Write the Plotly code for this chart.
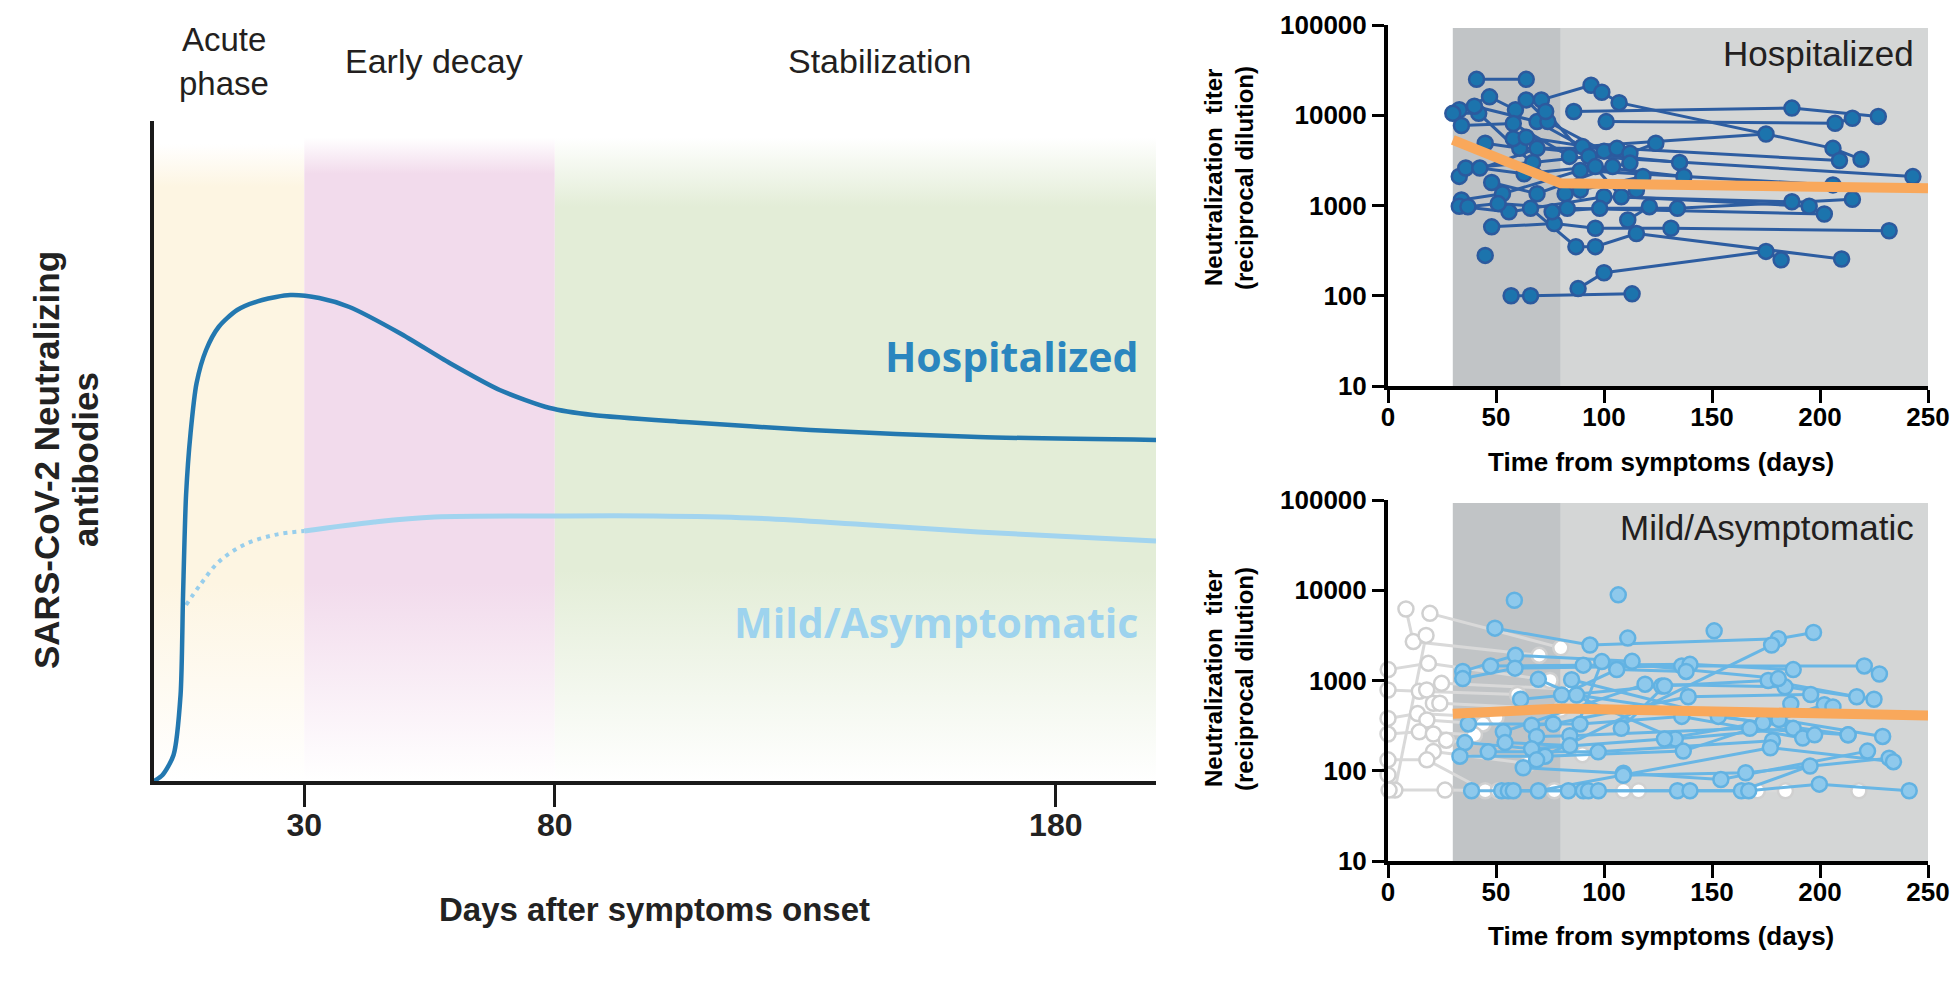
import plotly.graph_objects as go

W, H = 1960, 990

# ---------------- Left schematic panel data ----------------
phase_bounds = [0, 30, 80, 200]
phase_names = ["Acute<br>phase", "Early decay", "Stabilization"]
phase_colors = ["#FDF5E2", "#F2DBEC", "#E3EDD7"]
left_ticks = [30, 80, 180]

hosp_curve_days = [0, 1.7, 3.9, 5.3, 5.8, 6.4, 7.3, 8.5, 10.4, 12.9, 16.6, 21.6, 27.2, 33, 39, 49, 59, 69, 79, 87.6, 106, 131, 164.5, 200]
hosp_curve_vals = [0, 6, 26, 86, 186, 286, 348, 398, 431, 454, 471, 481, 486, 483, 474, 448, 418, 391, 373, 366, 359, 351, 344, 341]

mild_dot_days = [6.4, 9.2, 12.9, 17.9, 24, 30]
mild_dot_vals = [176, 196, 219, 236, 246, 250]
mild_curve_days = [30, 44, 56, 80, 100, 119, 140, 164.5, 200]
mild_curve_vals = [250, 259, 264, 265, 265, 263, 257, 249, 240]

# ---------------- Right panels data ----------------
shade_bounds = [30, 80, 250]
y_tickvals = [10, 100, 1000, 10000, 100000]
x_tickvals = [0, 50, 100, 150, 200, 250]

hosp_days = [
    [41, 64], [71, 94], [99, 107, 206, 219], [86, 187, 227], [101, 207, 215],
    [33, 47, 59], [30, 42, 82], [34, 58, 84], [40, 69, 90, 175], [64, 74, 100],
    [45, 61, 106, 209], [58, 64, 112, 124], [33, 69, 135], [36, 67, 93, 243],
    [42.5, 63, 96, 137], [34, 53, 89, 206], [33, 56, 100, 187], [37, 51, 83, 202],
    [48, 69, 104, 112], [48, 77, 96, 131, 232], [45], [57, 66, 113],
    [88, 100, 175, 182], [66, 87, 96, 115, 210], [76, 98, 134, 215],
    [73, 108, 195], [89, 118], [111, 121], [115],
]
hosp_titer = [
    [25000, 25000], [14800, 21500], [18000, 13800, 4300, 3250], [11000, 12000, 9700], [8500, 8150, 9250],
    [11500, 16000, 11500], [10500, 10500, 1350], [7700, 8100, 3500], [12600, 8500, 4500, 6200], [14800, 8500, 4000],
    [4900, 4300, 4300, 3150], [5500, 5700, 3800, 4900], [2100, 4300, 3000], [2600, 3000, 3500, 2090],
    [2600, 2250, 2700, 2100], [1150, 1350, 2450, 1690], [980, 850, 1250, 1100], [970, 1050, 930, 805],
    [1800, 1350, 2700, 2950], [580, 630, 560, 560, 525], [280], [100, 100, 105],
    [120, 180, 310, 250], [930, 350, 350, 490, 255], [850, 930, 930, 1170],
    [11000, 1250, 980], [1480, 2100], [690, 970], [1480],
]
hosp_median_days = [30, 80, 250]
hosp_median = [5330, 1760, 1550]

early_days = [
    [8.3, 11.7, 70], [19.4, 80], [3.2, 17.6], [0.1, 18.7, 75], [0, 14.5, 60],
    [17.9, 24.8, 85], [21, 24, 80], [0, 13.7, 50], [18, 44], [0, 14.5, 40],
    [21, 27, 90], [21, 65], [0, 18, 45], [0, 0.5, 26.4, 51], [109, 116],
    [171, 184], [218], [77],
]
early_titer = [
    [6200, 2700, 1900], [5550, 2300], [61, 3160], [1320, 1550, 1000], [785, 760, 700],
    [785, 930, 800], [560, 560, 480], [380, 430, 390], [365, 330], [255, 270, 250],
    [255, 218, 150], [163, 120], [132, 132, 60], [90, 61, 61, 60], [60, 60],
    [60, 60], [60], [60],
]

mild_days = [
    [58.5], [106.6], [49.5, 93.5, 180.7, 197], [111], [151],
    [34.6, 59, 113], [34.6, 58.8, 136, 220.5, 227.5], [47.5, 90.4, 139.8, 187.6],
    [69.6, 133, 187.6], [80.4, 105.9, 138], [85, 152.9, 213], [61.4, 126.7, 176, 217],
    [87.3, 173.6, 186.5], [37.2, 88.9, 136, 192, 197.5], [53.4, 119, 183.8, 225],
    [66.5, 76.5, 139, 195.7], [68.8, 84.2, 167.5, 213], [35.6, 66.5, 128, 181, 229],
    [54.2, 84.2, 99, 180.7], [33.3, 72.7, 136.7, 202, 206], [46.4, 97.3, 178],
    [68.8, 177.6], [62.6, 109, 154.1, 222], [108.9, 165.6, 232], [38.7, 52.6, 83.5],
    [55.7, 69.6, 177, 234], [58, 90.4, 163.6, 195.4], [108, 128],
    [92.8, 97.4, 134, 139.8, 167, 199.7, 241.3],
]
mild_titer = [
    [7750], [8900], [3800, 2470, 2900, 3400], [2950], [3550],
    [1260, 1900, 1630], [1050, 1370, 1450, 1450, 1180], [1450, 1480, 1510, 1320],
    [1030, 225, 295], [690, 1320, 1260], [1020, 400, 250], [620, 870, 1000, 660],
    [690, 340, 550], [330, 330, 400, 230, 250], [270, 910, 850, 620],
    [320, 330, 660, 700], [240, 245, 295, 250], [205, 175, 225, 370, 240],
    [205, 190, 1620, 1050], [145, 145, 165, 540, 510], [162, 162, 215],
    [132, 2470], [108, 94, 80, 165], [89, 95, 138], [60, 60, 60],
    [60, 60, 180, 126], [60, 60, 60, 113], [295, 870],
    [60, 60, 60, 60, 60, 71, 60],
]
mild_median_days = [30, 80, 250]
mild_median = [427, 490, 410]


def px_x(p):
    return p / W


def px_y(p):
    return 1 - p / H


def flatten(days, titers):
    xs, ys = [], []
    for d, t in zip(days, titers):
        xs += list(d) + [None]
        ys += list(t) + [None]
    return xs, ys


fig = go.Figure()

# ---- left panel background bands with vertical fades ----
YTOP = 660
band_scales = [
    [[0, "#FFFFFF"], [0.3, None], [0.9, None], [0.965, "#FFFFFF"], [1, "#FFFFFF"]],
    [[0, "#FFFFFF"], [0.3, None], [0.92, None], [0.975, "#FFFFFF"], [1, "#FFFFFF"]],
    [[0, "#FFFFFF"], [0.32, None], [0.87, None], [0.975, "#FFFFFF"], [1, "#FFFFFF"]],
]
for i in range(3):
    x0, x1 = phase_bounds[i], phase_bounds[i + 1]
    cs = [[p, c if c else phase_colors[i]] for p, c in band_scales[i]]
    fig.add_trace(go.Scatter(
        x=[x0, x1, x1, x0, x0], y=[0, 0, YTOP, YTOP, 0],
        fill="toself", mode="none", hoverinfo="skip", showlegend=False,
        fillgradient=dict(type="vertical", colorscale=cs, start=0, stop=YTOP),
        xaxis="x", yaxis="y",
    ))

fig.add_trace(go.Scatter(
    x=mild_dot_days, y=mild_dot_vals, mode="lines", line=dict(color="#98CEEC", width=4, dash="4px,5px", shape="spline"),
    showlegend=False, xaxis="x", yaxis="y", cliponaxis=False, hoverinfo="skip"))
fig.add_trace(go.Scatter(
    x=mild_curve_days, y=mild_curve_vals, mode="lines", line=dict(color="#A2D4EF", width=5, shape="spline"),
    showlegend=False, xaxis="x", yaxis="y", cliponaxis=False, hoverinfo="skip"))
fig.add_trace(go.Scatter(
    x=hosp_curve_days, y=hosp_curve_vals, mode="lines", line=dict(color="#2378B0", width=4.5, shape="spline", smoothing=0.7),
    showlegend=False, xaxis="x", yaxis="y", cliponaxis=False, hoverinfo="skip"))

# ---- right top: hospitalized ----
hx, hy = flatten(hosp_days, hosp_titer)
fig.add_trace(go.Scatter(
    x=hx, y=hy, mode="lines+markers", connectgaps=False,
    line=dict(color="#2D5DA1", width=3),
    marker=dict(size=15, color="#1C74AD", line=dict(color="#2C5A9E", width=2.5)),
    showlegend=False, xaxis="x2", yaxis="y2", cliponaxis=False))
fig.add_trace(go.Scatter(
    x=hosp_median_days, y=hosp_median, mode="lines", line=dict(color="#F9A85B", width=10),
    showlegend=False, xaxis="x2", yaxis="y2"))

# ---- right bottom: mild ----
ex, ey = flatten(early_days, early_titer)
fig.add_trace(go.Scatter(
    x=ex, y=ey, mode="lines+markers", connectgaps=False,
    line=dict(color="#D9D9D9", width=3),
    marker=dict(size=15, color="#FFFFFF", line=dict(color="#D0D0D0", width=2.5)),
    showlegend=False, xaxis="x3", yaxis="y3", cliponaxis=False))
mx, my = flatten(mild_days, mild_titer)
fig.add_trace(go.Scatter(
    x=mx, y=my, mode="lines+markers", connectgaps=False,
    line=dict(color="#68B6E5", width=3),
    marker=dict(size=15, color="#8EC9EC", line=dict(color="#62B2E2", width=2.5)),
    showlegend=False, xaxis="x3", yaxis="y3", cliponaxis=False))
fig.add_trace(go.Scatter(
    x=mild_median_days, y=mild_median, mode="lines", line=dict(color="#F9A85B", width=10),
    showlegend=False, xaxis="x3", yaxis="y3"))

# ---- shading rectangles on right panels ----
shapes = []
shade_cols = ["#C1C4C6", "#D4D6D6"]
for xr, yr in (("x2", "y2 domain"), ("x3", "y3 domain")):
    for i in range(2):
        shapes.append(dict(type="rect", xref=xr, yref=yr, x0=shade_bounds[i], x1=shade_bounds[i + 1],
                           y0=0, y1=0.992, fillcolor=shade_cols[i], line=dict(width=0), layer="below"))

FONT = "Liberation Sans, Arial, sans-serif"
INK = "#231F20"

left_x_dom = [px_x(154), px_x(1156)]
left_y_dom = [px_y(781), px_y(121)]
rx_dom = [px_x(1388), px_x(1928)]
top_y_dom = [px_y(386), px_y(25)]
bot_y_dom = [px_y(861), px_y(500)]

right_x = dict(domain=rx_dom, range=[0, 250], tickvals=x_tickvals, ticks="outside", ticklen=13, tickwidth=3,
               tickcolor="black", showline=True, linewidth=4, linecolor="black", showgrid=False, zeroline=False,
               automargin=False, ticklabelstandoff=-8,
               tickfont=dict(family=FONT, size=26, color="black", weight="bold"))
right_y = dict(type="log", range=[1, 5], tickvals=y_tickvals, ticktext=[str(v) for v in y_tickvals],
               ticks="outside", ticklen=12, tickwidth=3, tickcolor="black", showline=True, linewidth=4,
               linecolor="black", showgrid=False, zeroline=False, automargin=False,
               tickfont=dict(family=FONT, size=26, color="black", weight="bold"))

annotations = []


def ann(text, x, y, size, bold=False, color=INK, angle=0, xanchor="center", family=FONT):
    annotations.append(dict(text=text, x=px_x(x), y=px_y(y), xref="paper", yref="paper", showarrow=False,
                            xanchor=xanchor, yanchor="middle", textangle=angle,
                            font=dict(family=family, size=size, color=color, weight="bold" if bold else "normal")))


# phase labels
ann("Acute", 224, 39, 33)
ann("phase", 224, 84, 33)
ann(phase_names[1], 434, 61, 34)
ann(phase_names[2], 879, 61, 34)
# left titles
ann("SARS-CoV-2 Neutralizing", 46, 460, 35, bold=True, color="#222222", angle=-90)
ann("antibodies", 85, 460, 35, bold=True, color="#222222", angle=-90)
ann("Days after symptoms onset", 654, 909, 33, bold=True, color="#222222")
# curve labels
ann("Hospitalized", 1140, 356, 41, bold=True, color="#2A86BF", xanchor="right", family="Open Sans, sans-serif")
ann("Mild/Asymptomatic", 1140, 622, 41, bold=True, color="#9DD3EE", xanchor="right", family="Open Sans, sans-serif")
# right titles
for yc in (178, 679):
    ann("Neutralization  titer", 1213, yc, 24, bold=True, color="black", angle=-90)
    ann("(reciprocal dilution)", 1244, yc, 24, bold=True, color="black", angle=-90)
ann("Time from symptoms (days)", 1661, 462, 26, bold=True, color="black")
ann("Time from symptoms (days)", 1661, 936, 26, bold=True, color="black")
ann("Hospitalized", 1916, 53, 35, color=INK, xanchor="right")
ann("Mild/Asymptomatic", 1916, 527, 35, color=INK, xanchor="right")

fig.update_layout(
    width=W, height=H, margin=dict(l=0, r=0, t=0, b=0, pad=0, autoexpand=False),
    paper_bgcolor="white", plot_bgcolor="rgba(0,0,0,0)",
    showlegend=False, shapes=shapes, annotations=annotations,
    xaxis=dict(domain=left_x_dom, range=[0, 200], tickvals=left_ticks, ticks="outside", ticklen=22, tickwidth=3,
               tickcolor="#1a1a1a", showline=True, linewidth=4, linecolor="#1a1a1a", showgrid=False, zeroline=False,
               automargin=False, ticklabelstandoff=-9,
               tickfont=dict(family=FONT, size=32, color="#222222", weight="bold")),
    yaxis=dict(domain=left_y_dom, range=[0, YTOP], showticklabels=False, ticks="", showline=True, linewidth=4,
               linecolor="#1a1a1a", showgrid=False, zeroline=False, automargin=False),
    xaxis2=dict(anchor="y2", **right_x),
    yaxis2=dict(anchor="x2", domain=top_y_dom, **right_y),
    xaxis3=dict(anchor="y3", **right_x),
    yaxis3=dict(anchor="x3", domain=bot_y_dom, **right_y),
)

fig.write_html("out.html", config={"displayModeBar": False},
               post_script="document.body.style.margin='0';document.body.style.overflow='hidden';")
